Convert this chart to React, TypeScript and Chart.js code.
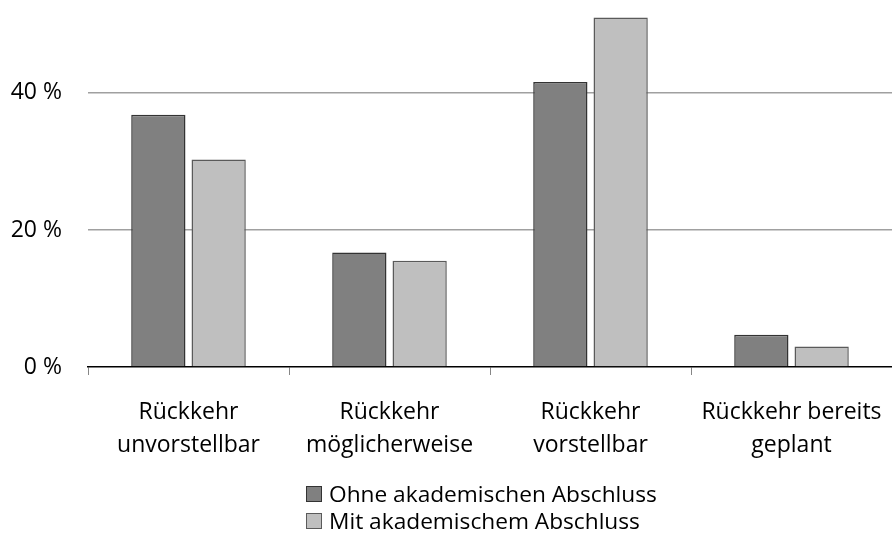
import React, { useEffect, useRef } from 'react';
import { Chart, registerables } from 'chart.js';

Chart.register(...registerables);

const categories: string[][] = [
  ['Rückkehr', 'unvorstellbar'],
  ['Rückkehr', 'möglicherweise'],
  ['Rückkehr', 'vorstellbar'],
  ['Rückkehr bereits', 'geplant'],
];
const seriesNames = ['Ohne akademischen Abschluss', 'Mit akademischem Abschluss'];
const ohneValues = [36.8, 16.7, 41.6, 4.7];
const mitValues = [30.3, 15.5, 51.0, 3.0];
const yTicks = [0, 20, 40];
const yMax = 52.1;

const fillColors = ['#808080', '#bfbfbf'];
const borderColors = ['#333333', '#5a5a5a'];
const FONT = '"Open Sans", sans-serif';

export default function App() {
  const ref = useRef<HTMLCanvasElement | null>(null);

  useEffect(() => {
    document.body.style.margin = '0';
    const canvas = ref.current;
    if (!canvas) return;
    const chart = new Chart(canvas, {
      type: 'bar',
      data: {
        labels: categories,
        datasets: [
          {
            label: seriesNames[0],
            data: ohneValues,
            backgroundColor: fillColors[0],
            borderColor: borderColors[0],
            borderWidth: 1.5,
            categoryPercentage: 0.6,
            barPercentage: 0.9,
          },
          {
            label: seriesNames[1],
            data: mitValues,
            backgroundColor: fillColors[1],
            borderColor: borderColors[1],
            borderWidth: 1.5,
            categoryPercentage: 0.6,
            barPercentage: 0.9,
          },
        ],
      },
      options: {
        responsive: false,
        animation: false,
        layout: { padding: { top: 10, left: 0, right: -8, bottom: 0 } },
        plugins: {
          legend: { display: false },
          tooltip: { enabled: false },
        },
        scales: {
          x: {
            grid: {
              offset: true,
              drawOnChartArea: false,
              drawTicks: true,
              tickLength: 8,
              color: '#868686',
              lineWidth: 1,
            },
            border: { display: true, color: '#000000', width: 1.5 },
            ticks: {
              color: '#000000',
              font: { family: FONT, size: 23, lineHeight: 1.42 },
              padding: 21,
              maxRotation: 0,
              autoSkip: false,
            },
            afterFit: (s: any) => {
              s.height = 169;
              s.paddingLeft = 0;
              s.paddingRight = 0;
            },
          },
          y: {
            min: 0,
            max: yMax,
            border: { display: false },
            grid: {
              drawTicks: false,
              color: (ctx: any) => (ctx.tick && ctx.tick.value === 0 ? 'rgba(0,0,0,0)' : '#a0a0a0'),
              lineWidth: 1.6,
            },
            ticks: {
              color: '#000000',
              font: { family: FONT, size: 23 },
              padding: 26,
              callback: (v: any) => v + ' %',
            },
            afterBuildTicks: (s: any) => {
              s.ticks = yTicks.map((v) => ({ value: v }));
            },
            afterFit: (s: any) => {
              s.width = 88;
              s.paddingTop = 0;
              s.paddingBottom = 0;
            },
          },
        },
      },
    });
    return () => chart.destroy();
  }, []);

  const legendRow = (i: number) => (
    <div key={i} style={{ display: 'flex', alignItems: 'center', height: 27 }}>
      <span
        style={{
          display: 'inline-block',
          width: 14,
          height: 14,
          background: fillColors[i],
          border: `1px solid ${borderColors[i]}`,
          marginRight: 7,
        }}
      />
      <span>{seriesNames[i]}</span>
    </div>
  );

  return (
    <div style={{ position: 'fixed', left: 0, top: 0, width: 892, height: 536, background: '#fff', overflow: 'hidden' }}>
      <canvas ref={ref} width={892} height={536} style={{ width: 892, height: 536, display: 'block' }} />
      <div
        style={{
          position: 'absolute',
          left: 306,
          top: 480,
          fontFamily: FONT,
          fontSize: 22.7,
          color: '#000',
          lineHeight: '27px',
        }}
      >
        {legendRow(0)}
        {legendRow(1)}
      </div>
    </div>
  );
}
